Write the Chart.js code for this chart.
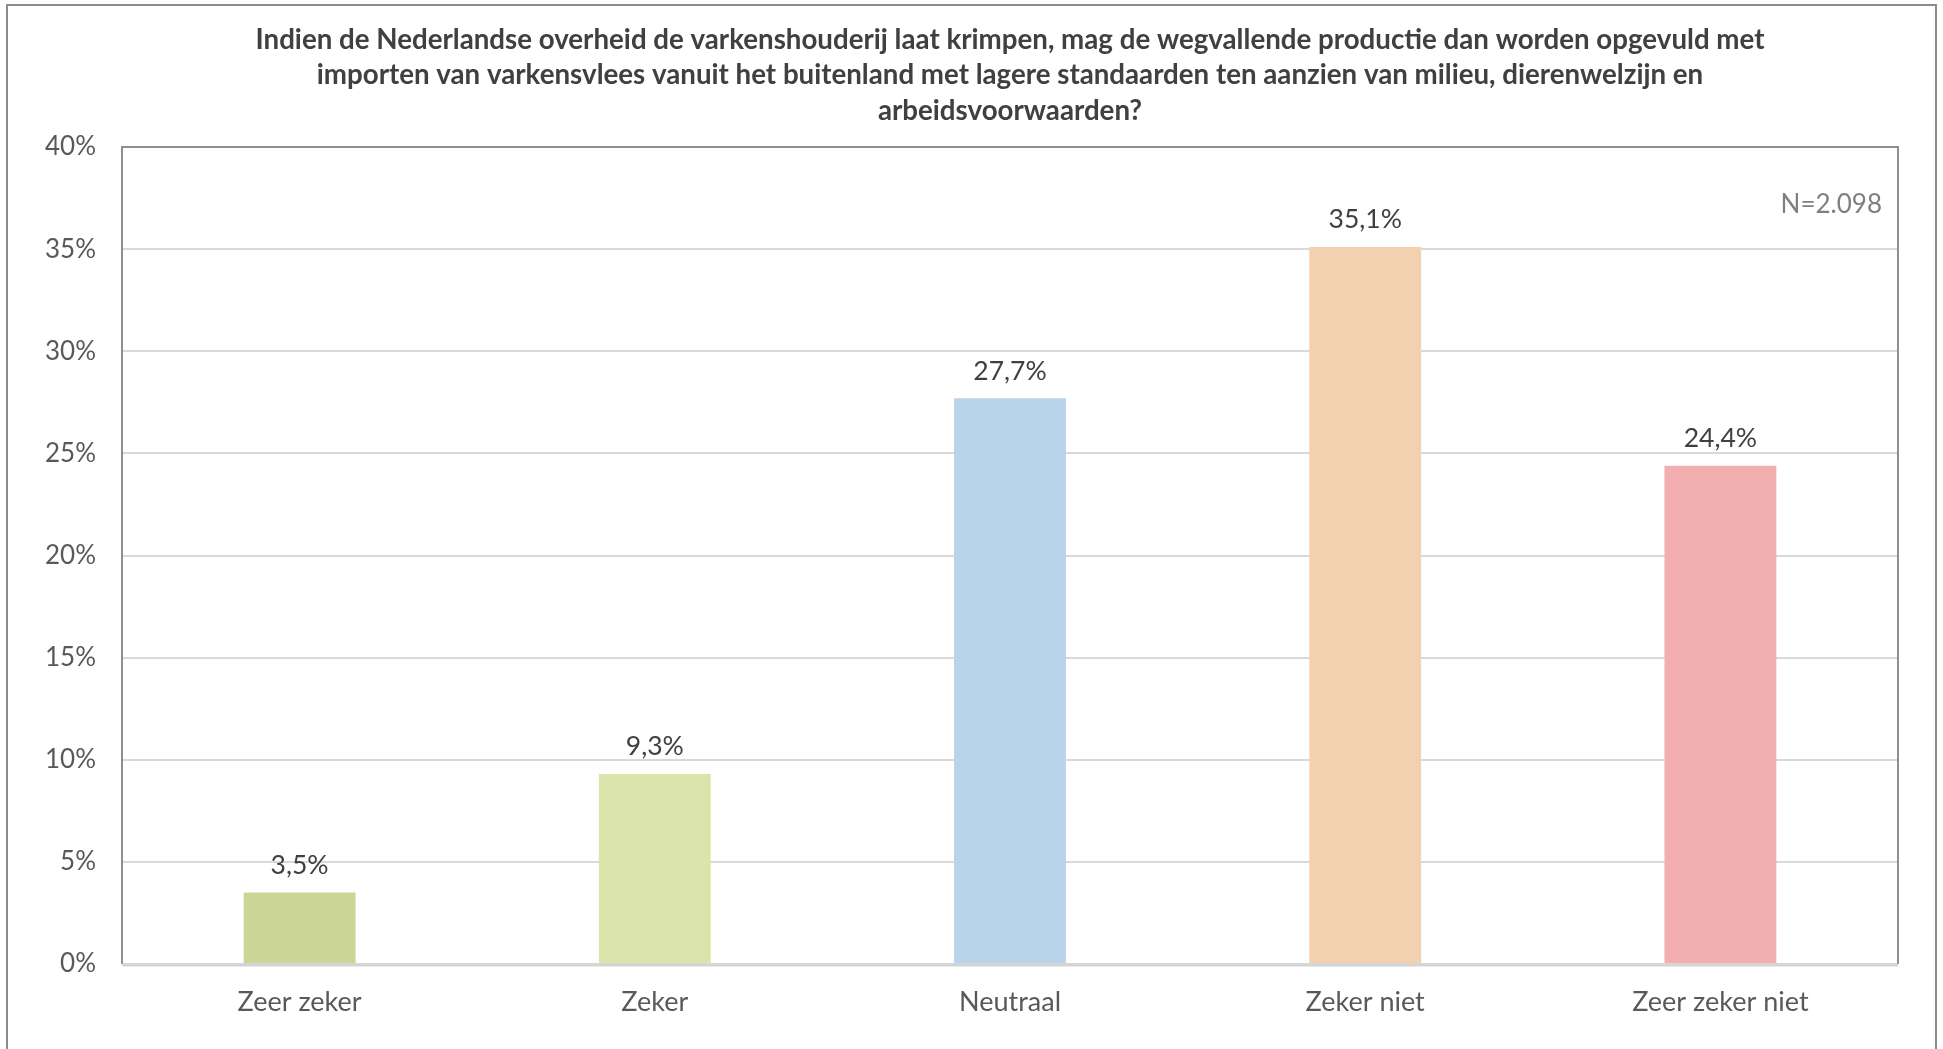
<!DOCTYPE html>
<html>
<head>
<meta charset="utf-8">
<script src="https://cdn.jsdelivr.net/npm/chart.js@4"></script>
<style>
html,body{margin:0;padding:0;background:#fff}
#wrap{position:relative;width:1943px;height:1049px}
</style>
</head>
<body>
<div id="wrap"><canvas id="c" width="1943" height="1049"></canvas></div>
<script>

const categories=["Zeer zeker","Zeker","Neutraal","Zeker niet","Zeer zeker niet"]
const values=[3.5,9.3,27.7,35.1,24.4]
const barColors=["#cad596","#dbe4aa","#b9d3eb","#f3d0b0","#f3afaf"]
const yTicks=[0,5,10,15,20,25,30,35,40]
const titleLines=[
"Indien de Nederlandse overheid de varkenshouderij laat krimpen, mag de wegvallende productie dan worden opgevuld met",
"importen van varkensvlees vanuit het buitenland met lagere standaarden ten aanzien van milieu, dierenwelzijn en",
"arbeidsvoorwaarden?"
]
const note="N=2.098"

const FONT="Lato, 'Open Sans', sans-serif"

function pct(v){
return v.toFixed(1).replace(".",",")+"%"
}

// outer frame, title over the plot area, plot frame, value labels, N note
const decor={
id:"decor",
beforeDraw(chart){
let ctx=chart.ctx
let a=chart.chartArea
ctx.save()
ctx.strokeStyle="#8c8c8c"
ctx.lineWidth=2
ctx.strokeRect(7,5,1929,1100)

ctx.fillStyle="#404040"
ctx.font="bold 27.7px "+FONT
ctx.textAlign="center"
ctx.textBaseline="middle"
let cx=(a.left+a.right)/2
titleLines.forEach((t,i)=>{
ctx.fillText(t,cx,40+i*35.5)
})
ctx.restore()
},
afterDatasetsDraw(chart){
let ctx=chart.ctx
let a=chart.chartArea
ctx.save()
ctx.strokeStyle="#8f8f8f"
ctx.lineWidth=2
ctx.beginPath()
ctx.moveTo(a.left,a.bottom)
ctx.lineTo(a.left,a.top)
ctx.lineTo(a.right,a.top)
ctx.lineTo(a.right,a.bottom)
ctx.stroke()
ctx.strokeStyle="#d4d4d4"
ctx.lineWidth=3
ctx.beginPath()
ctx.moveTo(a.left,a.bottom+1)
ctx.lineTo(a.right,a.bottom+1)
ctx.stroke()

let meta=chart.getDatasetMeta(0)
ctx.fillStyle="#404040"
ctx.font="26.5px "+FONT
ctx.textAlign="center"
ctx.textBaseline="bottom"
meta.data.forEach((bar,i)=>{
ctx.fillText(pct(values[i]),bar.x,bar.y-14)
})

ctx.fillStyle="#7f7f7f"
ctx.font="26px "+FONT
ctx.textAlign="right"
ctx.textBaseline="middle"
ctx.fillText(note,a.right-16,a.top+58)
ctx.restore()
}
}

new Chart(document.getElementById("c"),{
type:"bar",
data:{
labels:categories,
datasets:[{
data:values,
backgroundColor:barColors,
barPercentage:0.315,
categoryPercentage:1
}]
},
options:{
responsive:false,
animation:false,
layout:{padding:{left:0,right:45,top:147,bottom:0}},
plugins:{
legend:{display:false},
tooltip:{enabled:false},
title:{display:false}
},
scales:{
x:{
grid:{display:false},
border:{display:false},
ticks:{color:"#595959",font:{family:FONT,size:27},padding:14},
afterFit(s){s.height=85}
},
y:{
min:0,max:40,
afterBuildTicks(s){s.ticks=yTicks.map(v=>({value:v}))},
grid:{color:"#d9d9d9",lineWidth:2,drawTicks:false},
border:{display:false},
ticks:{color:"#595959",font:{family:FONT,size:26},padding:26,callback:v=>v+"%"},
afterFit(s){s.width=122}
}
}
},
plugins:[decor]
})

</script>
</body>
</html>
